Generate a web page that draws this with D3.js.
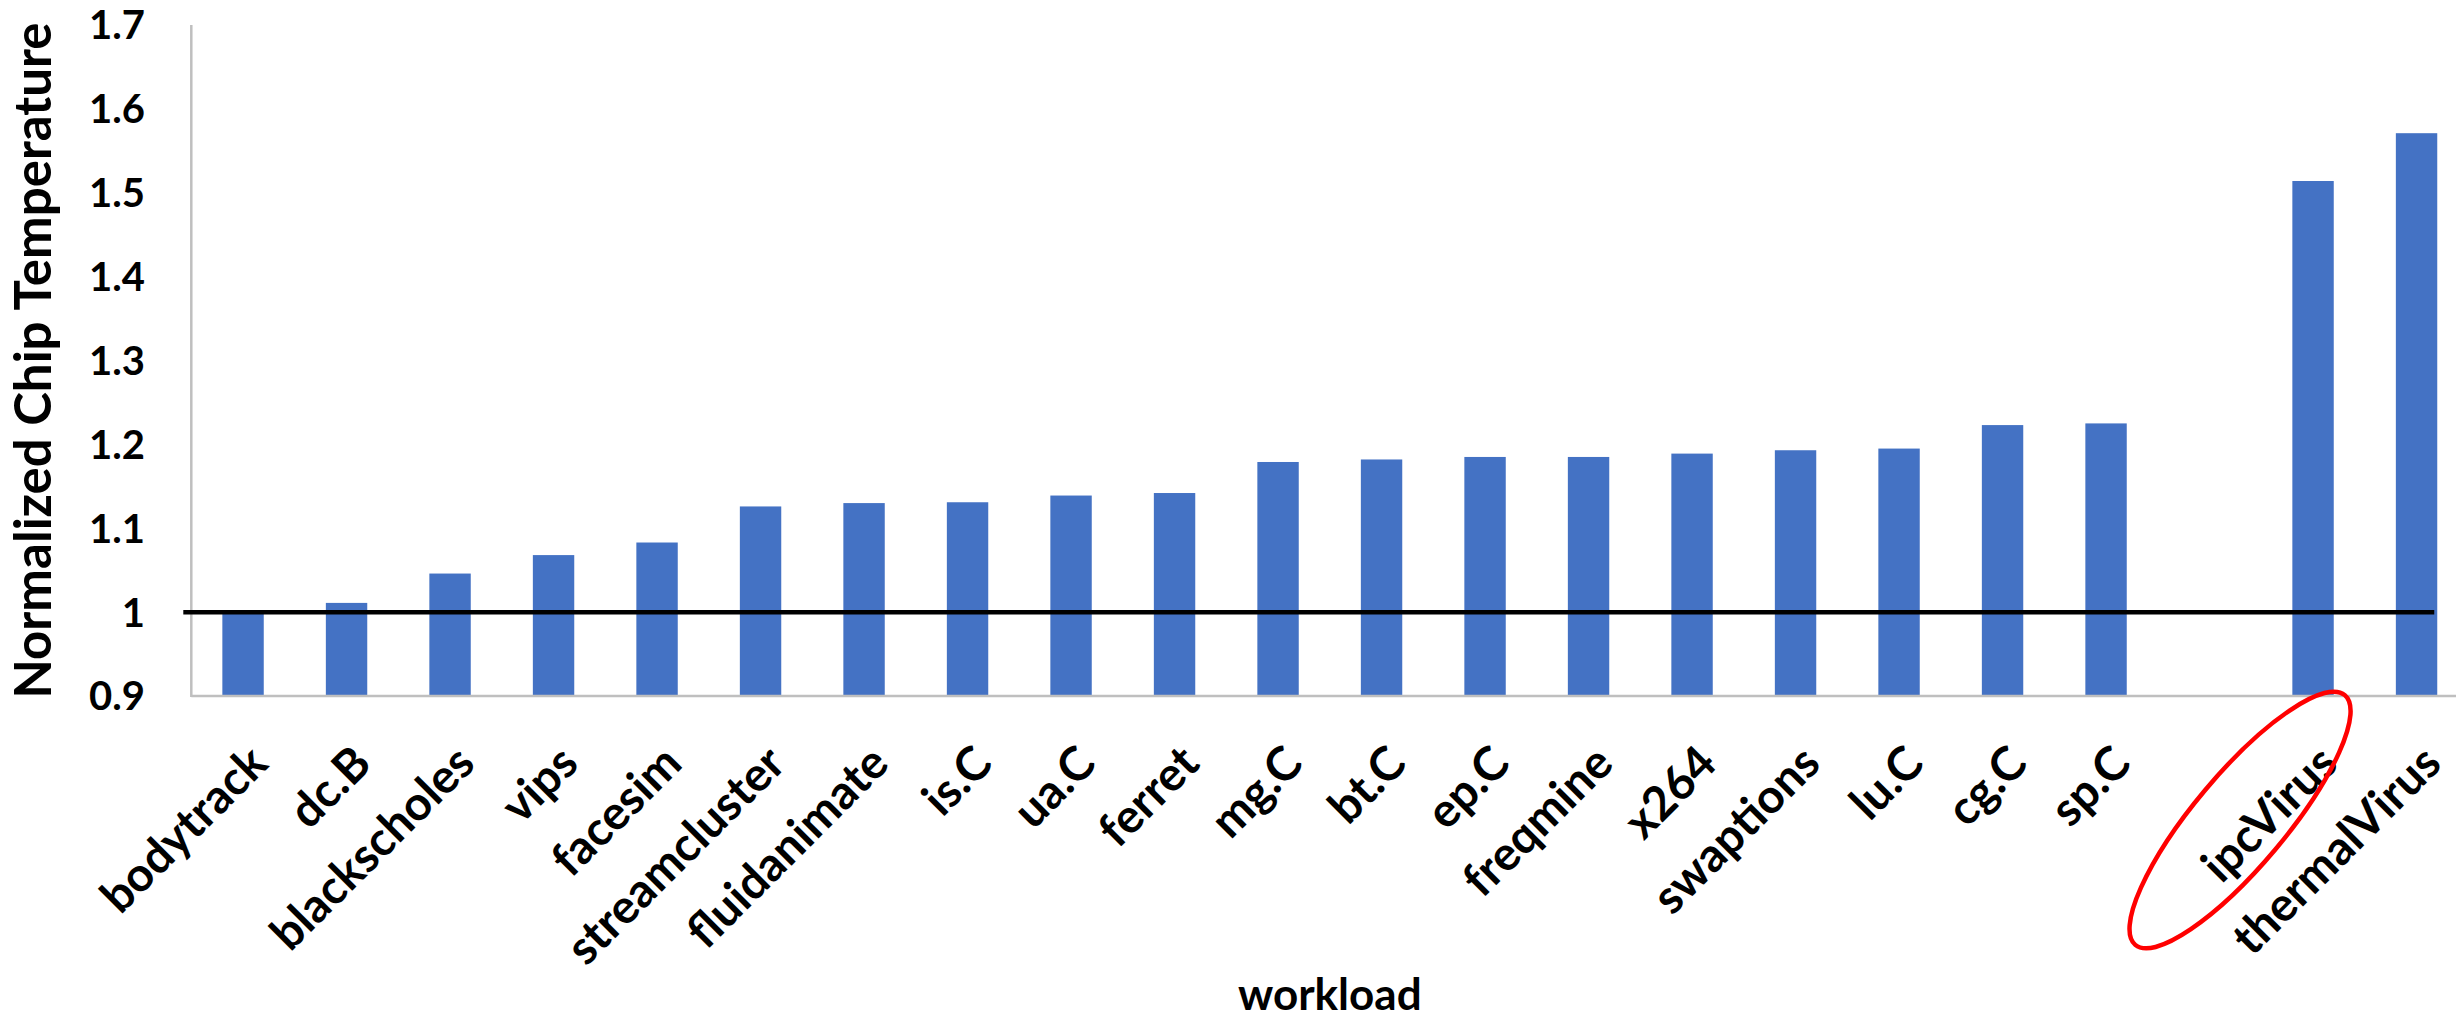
<!DOCTYPE html>
<html>
<head>
<meta charset="utf-8">
<script src="https://cdn.jsdelivr.net/npm/d3@7"></script>
<style>
  html, body { margin: 0; padding: 0; background: #fff; }
  svg { display: block; }
  text { font-family: Lato, "Open Sans", sans-serif; font-weight: 700; fill: #000; }
</style>
</head>
<body>
<svg id="chart" width="2456" height="1020"></svg>
<script>
// Benchmark workloads, sorted by normalized chip temperature
const workloads = ["bodytrack", "dc.B", "blackscholes", "vips", "facesim", "streamcluster",
  "fluidanimate", "is.C", "ua.C", "ferret", "mg.C", "bt.C", "ep.C", "freqmine", "x264",
  "swaptions", "lu.C", "cg.C", "sp.C"];
const workloadTemps = [1.000, 1.011, 1.046, 1.068, 1.083, 1.126, 1.130, 1.131, 1.139, 1.142,
  1.179, 1.182, 1.185, 1.185, 1.189, 1.193, 1.195, 1.223, 1.225];

// Synthetic stress programs, shown after a gap
const viruses = ["ipcVirus", "thermalVirus"];
const virusTemps = [1.514, 1.571];

const yTicks = [0.9, 1.0, 1.1, 1.2, 1.3, 1.4, 1.5, 1.6, 1.7];
const baselineValue = 1.0;
const highlighted = "ipcVirus";

const bars = workloads.map((w, i) => ({ name: w, value: workloadTemps[i] }))
  .concat(viruses.map((v, i) => ({ name: v, value: virusTemps[i] })));
const slots = [...workloads, " ", ...viruses];

const svg = d3.select("#chart");
const margin = { left: 191.3, top: 25, bottom: 696 };
const slotStep = 103.5;

const x = d3.scaleBand()
  .domain(slots)
  .range([margin.left, margin.left + slotStep * slots.length])
  .paddingInner(0.6)
  .paddingOuter(0.3);

const y = d3.scaleLinear()
  .domain([0.9, 1.7])
  .range([margin.bottom, margin.top]);

const blue = "#4472C4";
const axisGrey = "#BFBFBF";

// bars
svg.append("g")
  .selectAll("rect")
  .data(bars)
  .join("rect")
  .attr("x", d => x(d.name))
  .attr("y", d => y(d.value))
  .attr("width", x.bandwidth())
  .attr("height", d => y(0.9) - y(d.value))
  .attr("fill", blue);

// axes lines
svg.append("line")
  .attr("x1", margin.left).attr("x2", margin.left)
  .attr("y1", y(1.7)).attr("y2", y(0.9) + 1)
  .attr("stroke", axisGrey).attr("stroke-width", 2.5);
svg.append("line")
  .attr("x1", margin.left).attr("x2", 2456)
  .attr("y1", y(0.9)).attr("y2", y(0.9))
  .attr("stroke", axisGrey).attr("stroke-width", 2.5);

// y tick labels
svg.append("g")
  .selectAll("text")
  .data(yTicks)
  .join("text")
  .attr("x", 145)
  .attr("y", d => y(d))
  .attr("dy", "0.36em")
  .attr("text-anchor", "end")
  .style("font-size", "40px")
  .text(d => d3.format("~g")(d));

// reference line at 1.0
const lastName = viruses[viruses.length - 1];
svg.append("line")
  .attr("x1", margin.left - 8)
  .attr("x2", x(lastName) + x.bandwidth() - 3)
  .attr("y1", y(baselineValue)).attr("y2", y(baselineValue))
  .attr("stroke", "#000").attr("stroke-width", 4.5);

// x tick labels, rotated
svg.append("g")
  .selectAll("text")
  .data(bars)
  .join("text")
  .attr("transform", d => `translate(${x(d.name) + x.bandwidth() / 2 + 27},${y(0.9) + 70}) rotate(-45)`)
  .attr("text-anchor", "end")
  .style("font-size", "47px")
  .text(d => d.name);

// axis titles
svg.append("text")
  .attr("transform", `translate(33,${(y(0.9) + y(1.7)) / 2}) rotate(-90)`)
  .attr("text-anchor", "middle")
  .attr("dy", "0.36em")
  .style("font-size", "51px")
  .text("Normalized Chip Temperature");

svg.append("text")
  .attr("x", (x.range()[0] + x.range()[1]) / 2)
  .attr("y", 1010)
  .attr("text-anchor", "middle")
  .style("font-size", "44px")
  .text("workload");

// highlight ring around the ipcVirus label
const hx = x(highlighted) + x.bandwidth() / 2;
svg.append("ellipse")
  .attr("transform", `translate(${hx - 73},${y(0.9) + 124}) rotate(-50)`)
  .attr("rx", 163)
  .attr("ry", 46)
  .attr("fill", "none")
  .attr("stroke", "#FF0000")
  .attr("stroke-width", 4.5);
</script>
</body>
</html>
